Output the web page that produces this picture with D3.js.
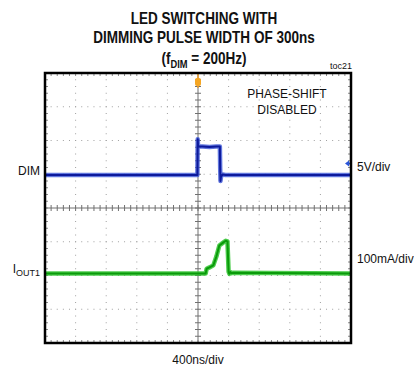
<!DOCTYPE html>
<html>
<head>
<meta charset="utf-8">
<script src="https://cdn.jsdelivr.net/npm/d3@7"></script>
<style>
  html, body { margin: 0; padding: 0; background: #fff; }
  svg { display: block; }
  text { font-family: "Liberation Sans", Arial, sans-serif; fill: #111; }
  .title { font-family: "Liberation Sans", Arial, sans-serif; font-weight: bold; font-size: 16px; }
</style>
</head>
<body>
<svg id="chart" width="414" height="368"></svg>
<script>
// Scope settings
const timePerDiv = 400;            // ns/div
const timeDivs = 10;
const vertDivs = 8;
const dimVoltsPerDiv = 5;          // V/div
const ioutMaPerDiv = 100;          // mA/div
const dimOffsetDiv = 0.98;         // DIM ground level, divisions above centre
const ioutOffsetDiv = -1.94;       // IOUT1 ground level, divisions above centre

// DIM trace: time (ns), volts
const dimTime  = [-2000, -8, -4, 0, 10, 60, 150, 240, 286, 290, 294, 300, 320, 360, 2000];
const dimVolts = [0, 0, 5.3, 4.4, 4.2, 4.2, 4.15, 4.2, 4.2, 1.0, -0.9, -0.3, 0.05, 0, 0];

// IOUT1 trace: time (ns), mA
const ioutTime = [-2000, 100, 113, 150, 200, 240, 279, 320, 362, 385, 400, 410, 425, 440, 460, 2000];
const ioutMa   = [0, 0, 14, 18, 24, 50, 83, 90, 97, 95, 5, -1, 4, 1, 2, 0];

const titleLines = ["LED SWITCHING WITH", "DIMMING PULSE WIDTH OF 300ns"];

const svg = d3.select("#chart");
const x = d3.scaleLinear().domain([-timeDivs / 2 * timePerDiv, timeDivs / 2 * timePerDiv]).range([45, 351]);
const y = d3.scaleLinear().domain([-vertDivs / 2, vertDivs / 2]).range([343, 73]);
const xDiv = d3.scaleLinear().domain([-timeDivs / 2, timeDivs / 2]).range([45, 351]);

// Title (condensed bold face)
const title = svg.append("g").attr("class", "titles");
titleLines.forEach((t, i) => {
  title.append("text").attr("class", "title")
    .attr("transform", `translate(204,${24 + i * 19}) scale(0.845,1)`)
    .attr("text-anchor", "middle").text(t);
});
const sub = title.append("text").attr("class", "title")
  .attr("transform", "translate(204,64) scale(0.845,1)").attr("text-anchor", "middle");
sub.append("tspan").text("(f");
sub.append("tspan").attr("font-size", "11px").attr("dy", 4).text("DIM");
sub.append("tspan").attr("dy", -4).text(" = 200Hz)");

svg.append("text").attr("x", 352).attr("y", 69).attr("text-anchor", "end")
  .attr("font-size", "9px").text("toc21");

// Grid: dotted lines at every major division, dots at minor (1/5) positions
const grid = svg.append("g").attr("fill", "#a0a0a0");
const minorX = d3.range(-timeDivs / 2 * 5, timeDivs / 2 * 5 + 1).map(d => d / 5);
const minorY = d3.range(-vertDivs / 2 * 5, vertDivs / 2 * 5 + 1).map(d => d / 5);
d3.range(-timeDivs / 2 + 1, timeDivs / 2).filter(d => d !== 0).forEach(dv => {
  grid.selectAll(null).data(minorY.slice(1, -1)).join("rect")
    .attr("x", xDiv(dv) - 0.5).attr("y", d => y(d) - 0.5).attr("width", 1).attr("height", 1);
});
d3.range(-vertDivs / 2 + 1, vertDivs / 2).filter(d => d !== 0).forEach(dv => {
  grid.selectAll(null).data(minorX.slice(1, -1)).join("rect")
    .attr("x", d => xDiv(d) - 0.5).attr("y", y(dv) - 0.5).attr("width", 1).attr("height", 1);
});

// Centre axes with minor ticks
const axes = svg.append("g").attr("stroke", "#707070").attr("stroke-width", 1);
axes.append("line").attr("x1", 45).attr("x2", 351).attr("y1", y(0)).attr("y2", y(0));
axes.append("line").attr("x1", xDiv(0)).attr("x2", xDiv(0)).attr("y1", 73).attr("y2", 343);
axes.selectAll(null).data(minorX).join("line")
  .attr("x1", d => xDiv(d)).attr("x2", d => xDiv(d))
  .attr("y1", y(0) - 3).attr("y2", y(0) + 3);
axes.selectAll(null).data(minorY).join("line")
  .attr("x1", xDiv(0) - 3).attr("x2", xDiv(0) + 3)
  .attr("y1", d => y(d)).attr("y2", d => y(d));

// Edge minor ticks
const edge = svg.append("g").attr("stroke", "#8a8a8a").attr("stroke-width", 1);
edge.selectAll(null).data(minorX).join("line")
  .attr("x1", d => xDiv(d)).attr("x2", d => xDiv(d)).attr("y1", 73).attr("y2", 76);
edge.selectAll(null).data(minorX).join("line")
  .attr("x1", d => xDiv(d)).attr("x2", d => xDiv(d)).attr("y1", 340).attr("y2", 343);
edge.selectAll(null).data(minorY).join("line")
  .attr("x1", 45).attr("x2", 48).attr("y1", d => y(d)).attr("y2", d => y(d));
edge.selectAll(null).data(minorY).join("line")
  .attr("x1", 348).attr("x2", 351).attr("y1", d => y(d)).attr("y2", d => y(d));

// Traces
const dimLine = d3.line().x(d => x(d[0])).y(d => y(dimOffsetDiv + d[1] / dimVoltsPerDiv));
const ioutLine = d3.line().x(d => x(d[0])).y(d => y(ioutOffsetDiv + d[1] / ioutMaPerDiv));
const dimData = dimTime.map((t, i) => [t, dimVolts[i]]);
const ioutData = ioutTime.map((t, i) => [t, ioutMa[i]]);

const traces = svg.append("g").attr("fill", "none").attr("stroke-linejoin", "round");
traces.append("path").attr("d", dimLine(dimData)).attr("stroke", "#3b55d6").attr("stroke-width", 4.5).attr("opacity", 0.8);
traces.append("path").attr("d", dimLine(dimData)).attr("stroke", "#0d1a9c").attr("stroke-width", 2);
traces.append("path").attr("d", ioutLine(ioutData)).attr("stroke", "#2fc42f").attr("stroke-width", 4.5).attr("opacity", 0.85);
traces.append("path").attr("d", ioutLine(ioutData)).attr("stroke", "#0a9a0a").attr("stroke-width", 2);

// Trigger marker (orange) and channel marker (blue arrow)
const trig = svg.append("g");
trig.append("line").attr("x1", x(0)).attr("x2", x(0)).attr("y1", 74).attr("y2", 88)
  .attr("stroke", "#f0a030").attr("stroke-width", 1.5);
trig.append("rect").attr("x", x(0) - 3).attr("y", 78).attr("width", 6).attr("height", 8).attr("rx", 2)
  .attr("fill", "#f5a623");
svg.append("path")
  .attr("d", `M${x(2000) - 6},${y(1.32)} l4,-3 v2 h2 v2 h-2 v2 z`)
  .attr("fill", "#2a55d8");

// Frame
svg.append("rect").attr("x", 45).attr("y", 73).attr("width", 306).attr("height", 270)
  .attr("fill", "none").attr("stroke", "#000").attr("stroke-width", 2.5);

// Channel labels and scale
const lab = svg.append("g").attr("font-size", "12px");
lab.append("text").attr("x", 40).attr("y", 175).attr("text-anchor", "end").text("DIM");
const iout = lab.append("text").attr("x", 40).attr("y", 273).attr("text-anchor", "end");
iout.append("tspan").text("I");
iout.append("tspan").attr("font-size", "9px").attr("dy", 3).text("OUT1");
lab.append("text").attr("x", 357).attr("y", 171).text("5V/div");
lab.append("text").attr("x", 357).attr("y", 263).text("100mA/div");
lab.append("text").attr("x", 198).attr("y", 364).attr("text-anchor", "middle").text("400ns/div");

const note = svg.append("g").attr("font-size", "12px").attr("text-anchor", "middle");
note.append("text").attr("x", 287).attr("y", 98).text("PHASE-SHIFT");
note.append("text").attr("x", 287).attr("y", 114).text("DISABLED");
</script>
</body>
</html>
